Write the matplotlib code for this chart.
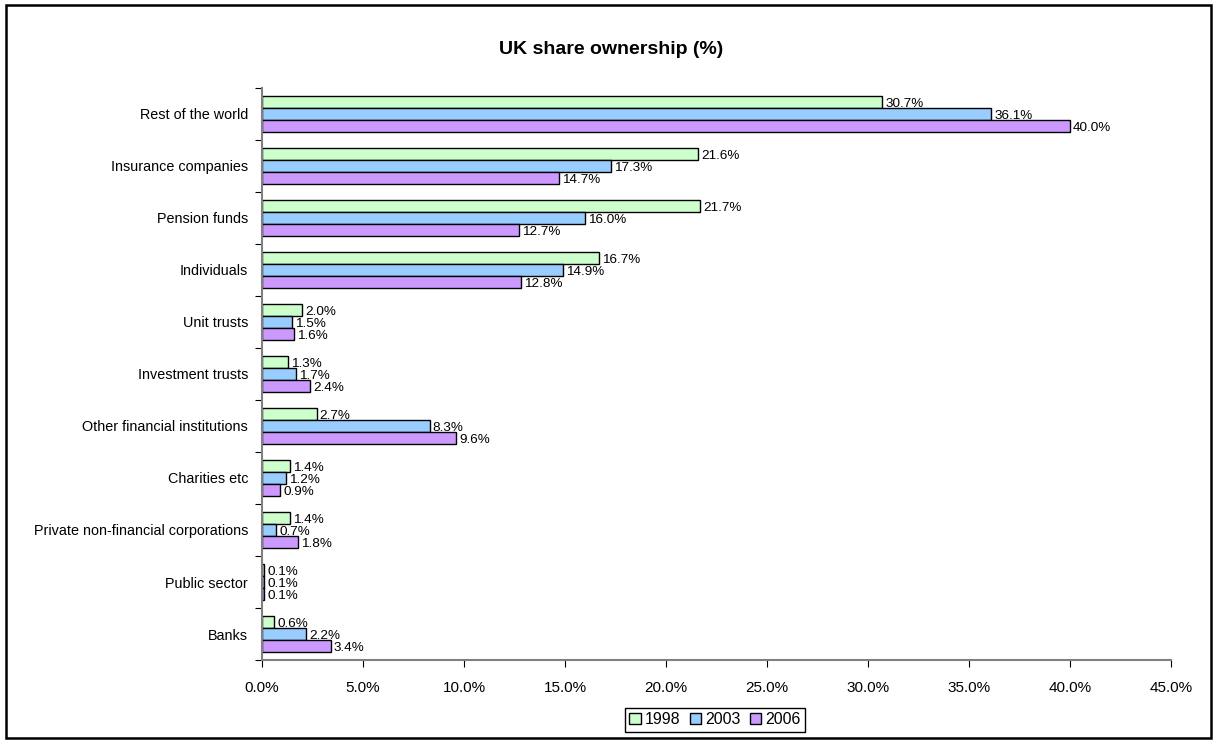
import numpy as np
import matplotlib.pyplot as plt
from matplotlib.patches import Rectangle
from matplotlib.ticker import FuncFormatter

plt.rcParams['font.family'] = ['Liberation Sans', 'DejaVu Sans']

# -----------------------------
# Data (top to bottom)
# -----------------------------
categories = ["Rest of the world", "Insurance companies", "Pension funds",
              "Individuals", "Unit trusts", "Investment trusts",
              "Other financial institutions", "Charities etc",
              "Private non-financial corporations", "Public sector", "Banks"]
years = ["1998", "2003", "2006"]
v1998 = [30.7, 21.6, 21.7, 16.7, 2.0, 1.3, 2.7, 1.4, 1.4, 0.1, 0.6]
v2003 = [36.1, 17.3, 16.0, 14.9, 1.5, 1.7, 8.3, 1.2, 0.7, 0.1, 2.2]
v2006 = [40.0, 14.7, 12.7, 12.8, 1.6, 2.4, 9.6, 0.9, 1.8, 0.1, 3.4]
colors = ["#CCFFCC", "#99CCFF", "#CC99FF"]

# -----------------------------
# Figure
# -----------------------------
fig = plt.figure(figsize=(12.17, 7.43), dpi=100)
ax = fig.add_axes([0.2153, 0.1117, 0.7469, 0.7699])

n = len(categories)
centers = np.arange(n)[::-1] + 0.5   # top category at top
bh = 0.235

for i, (vals, col, yr) in enumerate(zip([v1998, v2003, v2006], colors, years)):
    ypos = centers + bh - i * bh
    ax.barh(ypos, vals, height=bh, color=col, edgecolor="black",
            linewidth=1.0, label=yr)
    for y, v in zip(ypos, vals):
        ax.text(v + 0.15, y - 0.04, f"{v:.1f}%", va="center", ha="left",
                fontsize=9.7)

ax.set_xlim(0, 45)
ax.set_ylim(0, n)
ax.set_xticks(np.arange(0, 46, 5))
ax.xaxis.set_major_formatter(FuncFormatter(lambda x, p: f"{x:.1f}%"))

# category boundaries as ticks, labels in the middle
ax.set_yticks(np.arange(n + 1))
ax.set_yticklabels([])
ax.set_yticks(centers, minor=True)
ax.set_yticklabels(categories, minor=True)
ax.tick_params(axis="y", which="minor", length=0, pad=10, labelsize=10.4)
ax.tick_params(axis="y", which="major", length=5, direction="out")
ax.tick_params(axis="x", length=5, direction="out", pad=10, labelsize=11)

for s in ["top", "right"]:
    ax.spines[s].set_visible(False)
for s in ["left", "bottom"]:
    ax.spines[s].set_color("#808080")
    ax.spines[s].set_linewidth(1.5)

fig.text(0.5025, 0.934, "UK share ownership (%)", ha="center", va="center",
         fontsize=14, fontweight="bold")

leg = fig.legend(loc="center", bbox_to_anchor=(0.5875, 0.031), ncol=3,
                 fontsize=11.5, handlelength=0.7, handleheight=0.7,
                 handletextpad=0.25, columnspacing=0.6, borderpad=0.3,
                 fancybox=False, framealpha=1)
leg.get_frame().set_edgecolor("black")
leg.get_frame().set_linewidth(1.0)

# outer border
fig.patches.append(Rectangle((0.005, 0.007), 0.99, 0.986, transform=fig.transFigure,
                             fill=False, edgecolor="black", linewidth=1.8))

plt.savefig("out.png", dpi=100)
